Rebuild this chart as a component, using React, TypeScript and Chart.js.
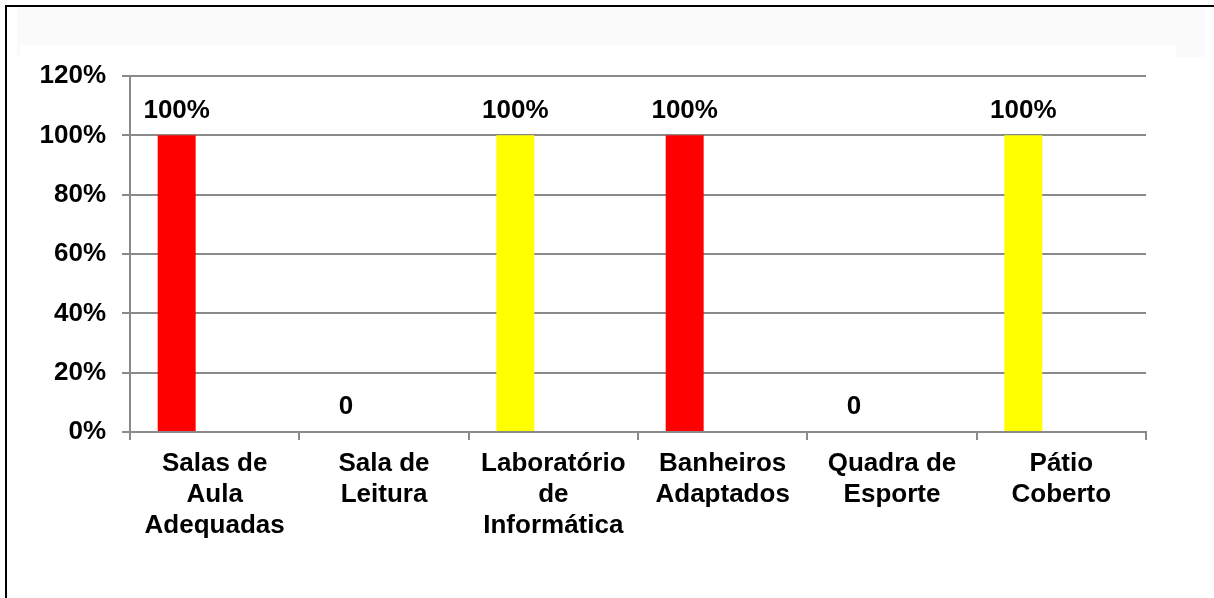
import React, { useEffect, useRef } from "react";
import { Chart, registerables } from "chart.js";

Chart.register(...registerables);

const categories: string[][] = [
  ["Salas de", "Aula", "Adequadas"],
  ["Sala de", "Leitura"],
  ["Laboratório", "de", "Informática"],
  ["Banheiros", "Adaptados"],
  ["Quadra de", "Esporte"],
  ["Pátio", "Coberto"],
];
const values: number[] = [100, 0, 100, 100, 0, 100];
const barColors: string[] = ["#FF0000", "#FF0000", "#FFFF00", "#FF0000", "#FFFF00", "#FFFF00"];
const emptySeries: (number | null)[] = [null, null, null, null, null, null];

const FONT = "'Liberation Sans', Arial, sans-serif";

const framePlugin = {
  id: "frame",
  beforeDraw(chart: any) {
    const ctx = chart.ctx;
    ctx.save();
    ctx.fillStyle = "#ffffff";
    ctx.fillRect(0, 0, chart.width, chart.height);
    ctx.fillStyle = "#fafafa";
    ctx.fillRect(17, 8, 1188, 37);
    ctx.fillRect(17, 45, 3, 12);
    ctx.fillRect(1176, 45, 29, 12);
    ctx.fillStyle = "#000000";
    ctx.fillRect(5, 5, chart.width, 2);
    ctx.fillRect(5, 5, 2, chart.height);
    ctx.restore();
  },
};

const labelPlugin = {
  id: "valueLabels",
  afterDatasetsDraw(chart: any) {
    const ctx = chart.ctx;
    const meta = chart.getDatasetMeta(0);
    ctx.save();
    ctx.font = `bold 26px ${FONT}`;
    ctx.fillStyle = "#000000";
    ctx.textAlign = "center";
    ctx.textBaseline = "middle";
    meta.data.forEach((bar: any, i: number) => {
      const v = values[i];
      const txt = v === 0 ? "0" : `${v}%`;
      ctx.fillText(txt, bar.x, bar.y - 25);
    });
    ctx.restore();
  },
};

export default function App() {
  const ref = useRef<HTMLCanvasElement | null>(null);
  useEffect(() => {
    if (!ref.current) return;
    const chart = new Chart(ref.current, {
      type: "bar",
      data: {
        labels: categories,
        datasets: [
          { data: values, backgroundColor: barColors, barPercentage: 1, categoryPercentage: 0.673 },
          { data: emptySeries, backgroundColor: "#ffffff", barPercentage: 1, categoryPercentage: 0.673 },
          { data: emptySeries, backgroundColor: "#ffffff", barPercentage: 1, categoryPercentage: 0.673 },
        ],
      },
      options: {
        animation: false,
        responsive: false,
        layout: { padding: { top: 76, right: 68, left: 0, bottom: 0 } },
        plugins: { legend: { display: false }, tooltip: { enabled: false } },
        scales: {
          x: {
            offset: true,
            grid: {
              offset: true,
              drawOnChartArea: false,
              drawTicks: true,
              tickLength: 8,
              color: "#8a8a8a",
              lineWidth: 2,
            },
            border: { color: "#8a8a8a", width: 2 },
            ticks: {
              color: "#000000",
              font: { family: FONT, size: 26, weight: "bold", lineHeight: 1.2 },
              padding: 8,
              maxRotation: 0,
              autoSkip: false,
            },
            afterFit(scale: any) {
              scale.height = 166;
            },
          },
          y: {
            min: 0,
            max: 120,
            ticks: {
              stepSize: 20,
              color: "#000000",
              font: { family: FONT, size: 26, weight: "bold" },
              padding: 16,
              callback: (v: any) => `${v}%`,
            },
            grid: { color: "#8a8a8a", lineWidth: 2, tickLength: 8 },
            border: { color: "#8a8a8a", width: 2 },
            afterFit(scale: any) {
              scale.width = 130;
            },
          },
        },
      },
      plugins: [framePlugin, labelPlugin],
    });
    return () => chart.destroy();
  }, []);
  return (
    <div style={{ position: "fixed", left: 0, top: 0, width: 1214, height: 598 }}>
      <canvas ref={ref} width={1214} height={598} style={{ width: 1214, height: 598 }} />
    </div>
  );
}
